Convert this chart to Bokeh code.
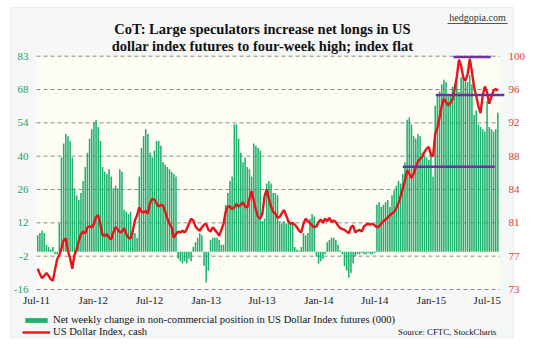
import pandas as pd
from bokeh.plotting import figure
from bokeh.models import (Range1d, Label, Legend, LegendItem, BoxAnnotation,
                          ColumnDataSource)
from bokeh.core.properties import value
from bokeh.embed import file_html
from bokeh.resources import INLINE

# ---------------- data ----------------
start_date = "2011-07-05"   # first weekly CoT report shown

net_change = [
    7, 8, 9, 8,
    3, 2, 1, 2, -1,
    -1, 12, 40,
    46, 50, 49, 47,
    40, 27, 24, 22, 25,
    30, 36, 42, 48, 52, 55, 56, 53,
    47, 36, 34, 33, 35, 32,
    27, 28, 27, 35, 34,
    18, 17, 16, 17, 10, 8, 6,
    32, 44, 49, 52, 50,
    42, 40, 43, 47, 47, 45,
    38, 37, 36, 35, 34, 33, 32,
    -3, -4, -5, -4, -5, -3, -4,
    2, 4, 6, 8, 7,
    -6, -13, -8,
    5, 6, 6, 6, 5, 3, 3,
    20, 25, 30, 32, 54, 54, 48,
    42, 38, 40, 36, 35, 32,
    46, 45, 44, 43, 13, 14,
    29, 30, 29, 25, 25, 24,
    13, 12, 13, 12, 13, 12, 12,
    2, 1, 0.5, 2, 8, 7, 8, 14, 16, 15,
    -2, -5, -4, -3, -1,
    4, 5, 6, 6, 5, 3,
    0.5, -1, -6, -8, -11, -9, -5, -2,
    -1, -1, -0.5, -1, -1, -0.5, -1, -1, -0.5,
    20, 21, 19, 20, 21, 22,
    19, 24, 26, 28, 30, 29,
    33, 38, 56, 57, 54, 49, 48, 50,
    49, 42, 41, 40, 39, 42, 32,
    62, 67, 68, 71, 73, 72, 66, 67,
    70, 71, 72, 68,
    74, 75, 73, 72, 75, 71,
    58, 60, 54, 53, 52, 51, 64,
    53, 52, 51, 52, 59,
]

dollar_index = [
    75.4, 74.8, 74.3, 74.6, 74.9, 74.6, 74.2, 74.0, 75.3, 76.5,
    77.0, 77.8, 78.7, 78.9, 77.5, 76.6, 75.4, 77.0, 77.6, 78.6,
    79.4, 79.7, 79.5, 80.2, 80.3, 80.2, 80.6, 81.4, 81.6, 80.5, 79.3,
    79.2, 79.4, 79.0, 78.8, 79.6, 80.2, 80.0, 79.6, 79.7, 80.1,
    79.4, 79.0, 78.9, 79.8, 81.0, 81.6, 82.5, 82.0, 81.9, 82.1,
    81.8, 83.0, 83.5, 83.4, 83.0, 82.6, 82.8, 82.7, 82.0, 81.2,
    80.6, 80.2, 79.0, 79.4, 79.7, 79.6, 79.8, 79.6, 80.0, 80.6,
    81.2, 81.0, 80.3, 80.0, 79.8, 80.2, 80.5, 80.6, 79.9, 79.7,
    80.2, 79.9, 79.6, 79.2, 79.9, 80.6, 82.0, 82.6, 82.6, 82.3, 82.5,
    82.9, 82.6, 82.8, 83.1, 82.6, 82.5, 83.5, 84.4, 83.3, 82.2,
    81.4, 81.2, 81.8, 83.8, 84.6, 83.5, 82.6, 82.0, 81.8, 81.3,
    81.4, 81.8, 82.2, 81.6, 80.9, 80.6, 80.7, 80.5, 80.2, 79.8,
    79.6, 80.6, 81.2, 80.9, 80.7, 80.4, 80.2, 80.3, 80.8, 81.1,
    80.7, 81.2, 80.9, 81.3, 80.8, 81.0, 80.8, 80.4, 80.1, 80.0, 79.9,
    79.7, 79.5, 80.2, 80.4, 79.6, 79.8, 79.9, 79.7, 80.3, 80.5,
    80.6, 80.5, 80.6, 80.4, 80.2, 80.3, 80.6, 80.9, 81.1, 81.3,
    81.6, 81.8, 82.0, 82.4, 83.0, 83.8, 84.7, 85.6, 86.8, 86.4,
    85.9, 86.4, 87.1, 87.8, 88.1, 88.4, 88.9, 89.3, 89.5, 88.6,
    88.4, 91.0, 91.7, 92.9, 94.2, 95.1, 94.7, 94.3, 94.6, 95.0, 96.2,
    97.6, 99.6, 98.9, 97.5, 97.2, 97.9, 99.7, 98.2, 96.4, 95.4,
    94.2, 93.4, 95.5, 96.5, 95.8, 94.5, 95.3, 96.0, 96.2, 96.0,
]

x_tick_dates = ["2011-07-01", "2012-01-01", "2012-07-01", "2013-01-01", "2013-07-01",
                "2014-01-01", "2014-07-01", "2015-01-01", "2015-07-01"]
x_tick_labels = ["Jul-11", "Jan-12", "Jul-12", "Jan-13", "Jul-13",
                 "Jan-14", "Jul-14", "Jan-15", "Jul-15"]
left_tick_labels = ["-16", "-2", "12", "26", "40", "54", "68", "83"]
right_tick_labels = ["73", "77", "81", "84", "88", "92", "96", "100"]

# horizontal reference levels on the dollar index (purple)
level_values = [99.9, 95.5, 87.2]
level_starts = ["2015-03-13", "2015-01-15", "2014-09-30"]
level_ends = ["2015-07-12", "2015-08-25", "2015-07-25"]

# ---------------- layout constants (pixels) ----------------
W, H = 535, 348
PL, PR, PT, PB = 36, 499, 55.7, 289.0      # plot area inside the canvas
DAY = 86400000
PX_PER_DAY = 0.3086

LEFT_MIN, LEFT_MAX = -16, 83
RIGHT_MIN, RIGHT_MAX = 73, 100


def ms(d):
    return pd.Timestamp(d).value // 10**6


plot_x0 = ms("2011-07-01")
ms_per_px = DAY / PX_PER_DAY
plot_x1 = plot_x0 + (PR - PL) * ms_per_px
lpp = (LEFT_MAX - LEFT_MIN) / (PB - PT)
rpp = (RIGHT_MAX - RIGHT_MIN) / (PB - PT)

x_range = Range1d(plot_x0 - PL * ms_per_px, plot_x0 + (W - PL) * ms_per_px)
y_range = Range1d(LEFT_MIN - (H - PB) * lpp, LEFT_MAX + PT * lpp)
dxy_range = Range1d(RIGHT_MIN - (H - PB) * rpp, RIGHT_MAX + PT * rpp)

bar_x = [ms(d) for d in pd.date_range(start_date, periods=len(net_change), freq="7D")]
line_x = [ms(d) for d in pd.date_range(start_date, periods=len(dollar_index), freq="7D")]

left_ticks = [LEFT_MIN + (LEFT_MAX - LEFT_MIN) * k / 7 for k in range(8)]
right_ticks = [RIGHT_MIN + (RIGHT_MAX - RIGHT_MIN) * k / 7 for k in range(8)]
x_ticks = [ms(d) for d in x_tick_dates]

SERIF = "Liberation Serif"
GREEN_TXT = "#1f9e5a"
RED_TXT = "#e0393b"

p = figure(width=W, height=H, output_backend="svg", toolbar_location=None,
           x_range=x_range, y_range=y_range, x_axis_location=None,
           y_axis_location=None, min_border=0, title=None)
p.extra_y_ranges = {"dxy": dxy_range}
p.xgrid.visible = False
p.ygrid.visible = False
p.outline_line_color = None
p.background_fill_color = "white"
p.border_fill_color = "white"

# outer light box and plot-area background
p.add_layout(BoxAnnotation(left=10, right=513, bottom=H - 337, top=H - 7,
                           left_units="screen", right_units="screen",
                           bottom_units="screen", top_units="screen",
                           fill_color="#f6f8f8", fill_alpha=1.0,
                           line_color="#cdd6de", line_width=1.5, level="underlay"))
p.add_layout(BoxAnnotation(left=plot_x0, right=plot_x1, bottom=LEFT_MIN, top=LEFT_MAX,
                           fill_color="#fdfdf4", fill_alpha=1.0, line_alpha=0,
                           level="underlay"))
# underline of the site name
p.add_layout(BoxAnnotation(left=447, right=507, bottom=H - 23.5, top=H - 22.5,
                           left_units="screen", right_units="screen",
                           bottom_units="screen", top_units="screen",
                           fill_color="#555555", fill_alpha=1.0, line_alpha=0))

# dashed gridlines
p.segment(x0=[plot_x0] * 8, x1=[plot_x1] * 8, y0=left_ticks, y1=left_ticks,
          line_color="#8a8a8a", line_dash="4 3", line_width=1)

# tick labels
p.text(x=[plot_x0] * 8, y=left_ticks, text=left_tick_labels, x_offset=-8,
       text_font=value(SERIF), text_font_size="11px", text_color=GREEN_TXT,
       text_align="right", text_baseline="middle")
p.text(x=[plot_x1] * 8, y=right_ticks, text=right_tick_labels, x_offset=9,
       y_range_name="dxy", text_font=value(SERIF), text_font_size="11px",
       text_color=RED_TXT, text_align="left", text_baseline="middle")
p.text(x=x_ticks, y=[LEFT_MIN] * len(x_ticks), text=x_tick_labels, y_offset=10,
       text_font=value(SERIF), text_font_size="11px", text_color="#222222",
       text_align="center", text_baseline="middle")

# series
bars = ColumnDataSource(dict(x=bar_x, v=net_change))
line = ColumnDataSource(dict(x=line_x, v=dollar_index))
levels = ColumnDataSource(dict(x0=[ms(d) for d in level_starts],
                               x1=[ms(d) for d in level_ends],
                               y=level_values))

r_bars = p.vbar(x="x", top="v", bottom=0, width=5 * DAY, source=bars,
                fill_color="#1fb06d", line_color=None)
r_line = p.line(x="x", y="v", source=line, y_range_name="dxy",
                line_color="#e8141b", line_width=2.4)
p.segment(x0="x0", x1="x1", y0="y", y1="y", source=levels, y_range_name="dxy",
          line_color="#7030a0", line_width=2.5)


# texts (screen units: origin at bottom-left of the canvas)
def add_label(text, x, y, size, color="#111111", style="normal", align="center"):
    p.add_layout(Label(x=x, y=H - y, x_units="screen", y_units="screen", text=text,
                       text_font=SERIF, text_font_size=size, text_color=color,
                       text_font_style=style, text_align=align,
                       text_baseline="middle"))


add_label("CoT: Large speculators increase net longs in US", 262, 28, "14.5px", style="bold")
add_label("dollar index futures to four-week high; index flat", 262, 45, "14.5px", style="bold")
add_label("hedgopia.com", 477, 17, "10px", color="#333333")
add_label("Source: CFTC, StockCharts", 496, 331, "8.8px", align="right")

legend = Legend(items=[
    LegendItem(label="Net weekly change in non-commercial position in US Dollar Index futures (000)",
               renderers=[r_bars]),
    LegendItem(label="US Dollar Index, cash", renderers=[r_line]),
], location=(22, H - 337), orientation="vertical")
legend.background_fill_alpha = 0
legend.border_line_alpha = 0
legend.padding = 0
legend.margin = 0
legend.spacing = 1
legend.glyph_width = 28
legend.glyph_height = 6
legend.label_height = 10
legend.label_standoff = 3
legend.label_text_font = SERIF
legend.label_text_font_size = "10.6px"
legend.label_text_color = "#111111"
p.add_layout(legend, "center")

open("out.html", "w").write(file_html(p, INLINE))
